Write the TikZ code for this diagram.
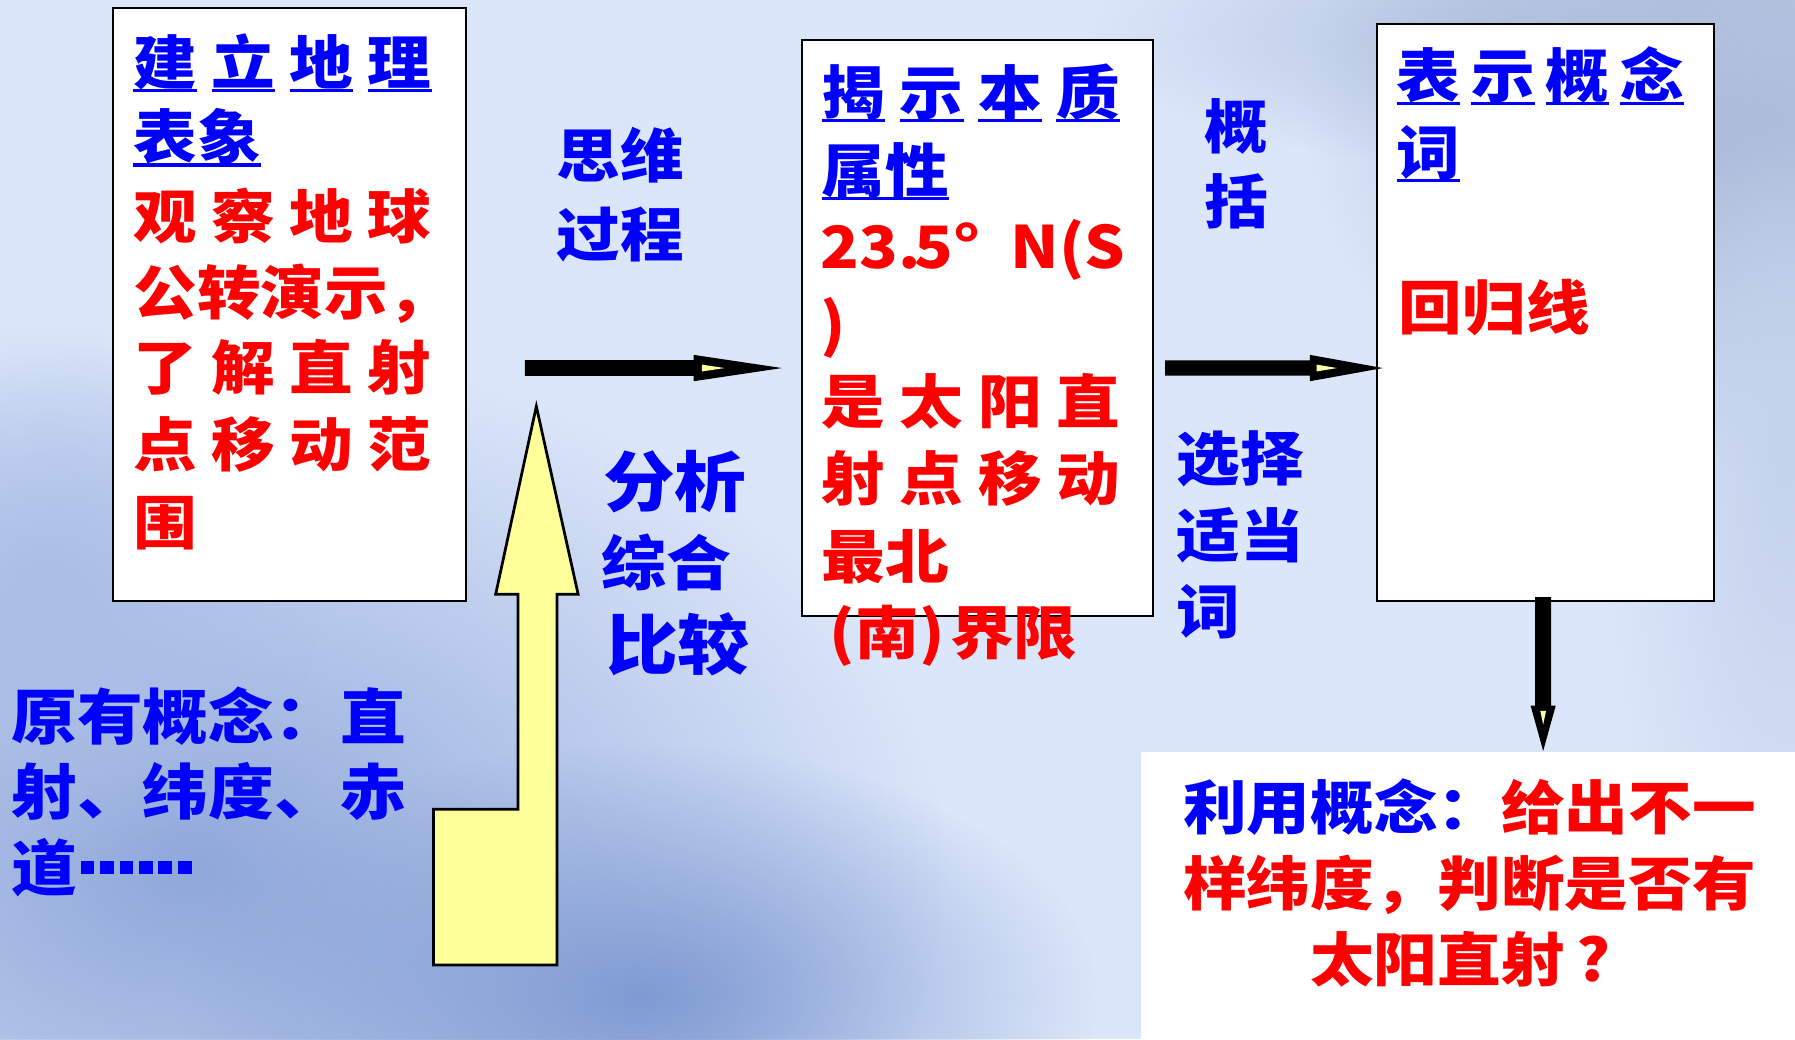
\documentclass[tikz,border=0pt]{standalone}
\usepackage{fontspec}
\newfontfamily\cjk[FakeStretch=1.09]{Noto Sans CJK SC}
\usetikzlibrary{fadings}
\definecolor{bg}{RGB}{220,230,250}
\definecolor{tblue}{RGB}{0,0,255}
\definecolor{tred}{RGB}{255,0,0}
\definecolor{ayellow}{RGB}{255,255,153}
\tikzfading[name=softblob, inner color=transparent!0, outer color=transparent!100]
\newsavebox\ulbox
\newcommand\ulc[1]{\sbox\ulbox{#1}\rlap{\rule[-0.135em]{\wd\ulbox}{0.055em}}\usebox\ulbox}
\newcommand\sqd{\rule{12pt}{12pt}}
\newcommand\sqdots{\raisebox{0.27em}{\sqd\hspace{5pt}\sqd\hspace{5pt}\sqd\hspace{5pt}\sqd\hspace{5pt}\sqd\hspace{5pt}\sqd}}
\newcommand\txtl[6]{\node[txt, text=#5, font=\cjk\bfseries\fontsize{#4}{#4}\selectfont] (#1) at (#2,#3) {#6};}
\tikzset{
  txt/.style={anchor=base west, inner sep=0pt, outer sep=0pt},
  panel/.style={draw=black, fill=white, line width=1.6pt, anchor=north west, inner sep=0pt, outer sep=0pt},
  blackarrow/.style={fill=black, draw=none},
  sliver/.style={fill=ayellow, draw=none},
  bigarrow/.style={fill=ayellow, draw=black, line width=2.4pt, line join=miter},
}
\begin{document}
\begin{tikzpicture}[x=1pt, y=-1pt]
\useasboundingbox (0,0) rectangle (1568,908);
% background
\fill[bg] (0,0) rectangle (1568,908);
\fill[color={rgb,255:red,143;green,168;blue,218}, path fading=softblob] (170,760) ellipse [x radius=660, y radius=460];
\fill[color={rgb,255:red,127;green,155;blue,211}, path fading=softblob] (560,870) ellipse [x radius=400, y radius=220];
\fill[color={rgb,255:red,169;green,189;blue,230}, path fading=softblob] (40,520) ellipse [x radius=240, y radius=240];
\fill[color={rgb,255:red,152;green,169;blue,204}, path fading=softblob] (1540,100) ellipse [x radius=400, y radius=320];
\fill[color={rgb,255:red,176;green,192;blue,222}, path fading=softblob] (1350,30) ellipse [x radius=400, y radius=120];
\fill[color={rgb,255:red,197;green,210;blue,236}, path fading=softblob] (1560,400) ellipse [x radius=160, y radius=500];

% boxes
\node[panel, minimum width=308pt, minimum height=518pt] (box1) at (99,7) {};
\node[panel, minimum width=307pt, minimum height=503pt] (box2) at (700.3,35) {};
\node[panel, minimum width=294pt, minimum height=504pt] (box3) at (1203,21) {};
\node[fill=white, draw=none, anchor=north west, inner sep=0pt, minimum width=571.5pt, minimum height=251.5pt] (use) at (996.5,656.5) {};

% black arrows
\coordinate (a1s) at (458.6,321.5);
\coordinate (a1t) at (683,321.5);
\fill[blackarrow] (458.6,314.5) -- (606,314.5) -- (606,310) -- (a1t) -- (606,333) -- (606,328.4) -- (458.6,328.4) -- cycle;
\fill[sliver] (613,318.5) -- (633,321.5) -- (613,324.5) -- cycle;
\coordinate (a2t) at (1208,321.5);
\fill[blackarrow] (1017.7,314.8) -- (1144.3,314.8) -- (1144.3,310) -- (a2t) -- (1144.3,333) -- (1144.3,328.2) -- (1017.7,328.2) -- cycle;
\fill[sliver] (1150,318.5) -- (1168,321.5) -- (1150,324.5) -- cycle;
\coordinate (a3t) at (1348,656);
\fill[blackarrow] (1341,521.5) -- (1341,616.3) -- (1337,616.3) -- (a3t) -- (1359,616.3) -- (1355,616.3) -- (1355,521.5) -- cycle;
\fill[sliver] (1345.5,621) -- (1350.5,621) -- (1348,633) -- cycle;

% yellow up arrow
\coordinate (ytip) at (468.5,355);
\draw[bigarrow] (ytip) -- (505,519) -- (486.5,519) -- (486.5,843) -- (378.6,843) -- (378.6,707) -- (452.5,707) -- (452.5,519) -- (433,519) -- cycle;

% box 1 text
\txtl{b1a}{116.5}{73.9}{51}{tblue}{\makebox[260.5pt][s]{\ulc{建}\hfill\ulc{立}\hfill\ulc{地}\hfill\ulc{理}}}
\txtl{b1b}{116.5}{138.6}{51}{tblue}{\ulc{表象}}
\txtl{b1c}{116.5}{208.2}{51}{tred}{\makebox[260.5pt][s]{观\hfill 察\hfill 地\hfill 球}}
\txtl{b1d}{116.5}{274.6}{51}{tred}{公转演示，}
\txtl{b1e}{116.5}{340.6}{51}{tred}{\makebox[260.5pt][s]{了\hfill 解\hfill 直\hfill 射}}
\txtl{b1f}{116.5}{407.1}{51}{tred}{\makebox[260.5pt][s]{点\hfill 移\hfill 动\hfill 范}}
\txtl{b1g}{116.5}{475.6}{51}{tred}{围}

% box 2 text
\txtl{b2a}{717.8}{100.1}{51}{tblue}{\makebox[260.5pt][s]{\ulc{揭}\hfill\ulc{示}\hfill\ulc{本}\hfill\ulc{质}}}
\txtl{b2b}{717.8}{168.1}{51}{tblue}{\ulc{属性}}
\txtl{b2c}{717}{234.2}{51}{tred}{23.}
\txtl{b2d}{799}{234.2}{51}{tred}{5°}
\txtl{b2e}{883}{234.2}{51}{tred}{N(S}
\txtl{b2f}{717}{303.1}{51}{tred}{)}
\txtl{b2g}{717.8}{370.1}{51}{tred}{\makebox[260.5pt][s]{是\hfill 太\hfill 阳\hfill 直}}
\txtl{b2h}{717.8}{437.3}{51}{tred}{\makebox[260.5pt][s]{射\hfill 点\hfill 移\hfill 动}}
\txtl{b2i}{717.8}{505.2}{51}{tred}{最北}
\txtl{b2j}{725}{571.3}{51}{tred}{(南)\hspace{5pt}界限}

% box 3 text
\txtl{b3a}{1220}{85.1}{51}{tblue}{\makebox[251pt][s]{\ulc{表}\hfill\ulc{示}\hfill\ulc{概}\hfill\ulc{念}}}
\txtl{b3b}{1220}{152.1}{51}{tblue}{\ulc{词}}
\txtl{b3c}{1222}{287.9}{51}{tred}{回归线}

% labels between boxes
\txtl{sw1}{486}{155.4}{51}{tblue}{思维}
\txtl{sw2}{486}{224}{51}{tblue}{过程}
\txtl{fx1}{527}{442.1}{57.4}{tblue}{分析}
\txtl{fx2}{525.5}{511.3}{52}{tblue}{综合}
\txtl{fx3}{529.5}{585.1}{57.4}{tblue}{比较}
\txtl{gk1}{1052}{129.6}{51}{tblue}{概}
\txtl{gk2}{1052}{194.8}{51}{tblue}{括}
\txtl{xz1}{1028}{419.6}{51}{tblue}{选择}
\txtl{xz2}{1028}{486.6}{51}{tblue}{适当}
\txtl{xz3}{1028}{553.4}{51}{tblue}{词}

% prior concepts
\txtl{yy1}{10}{645.6}{52.7}{tblue}{原有概念：直}
\txtl{yy2}{10}{711.1}{52.7}{tblue}{射、纬度、赤}
\txtl{yy3}{10}{777.9}{52.7}{tblue}{道\hspace{3pt}\sqdots}

% using concept
\txtl{ly1}{1033.5}{724.2}{51}{tblue}{利用概念：\textcolor{tred}{给出不一}}
\txtl{ly2}{1033.5}{791.2}{51}{tred}{样纬度，判断是否有}
\txtl{ly3}{1144.5}{857.4}{51}{tred}{太阳直射\hspace{10pt}?}
\end{tikzpicture}
\end{document}
